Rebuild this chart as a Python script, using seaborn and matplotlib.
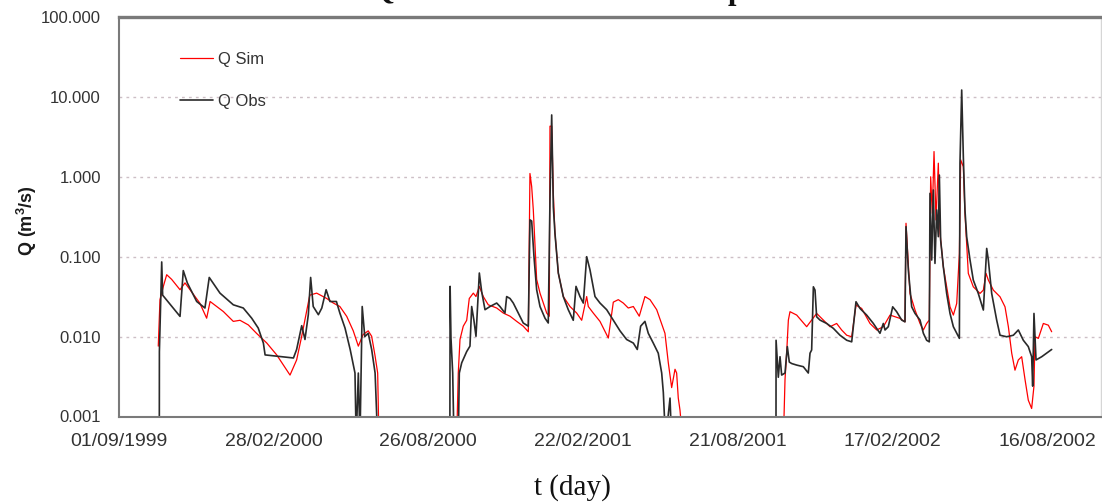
import numpy as np
import pandas as pd
import matplotlib
matplotlib.use("Agg")
import matplotlib.pyplot as plt
import matplotlib.ticker as mticker
import seaborn as sns

# Simulated and observed discharge, days counted from 01/09/1999
start = pd.Timestamp("1999-09-01")

sim_days = [
    45.7, 47.7, 51.6, 55.5, 61.3, 71.0, 76.8, 94.0, 102.0, 106.0, 121.4, 133.0,
    140.8, 150.5, 160.0, 172.0, 183.5, 199.0, 206.7, 212.6, 222.0, 230.0, 241.7,
    249.4, 257.0, 265.0, 272.6, 278.5, 284.0, 290.0, 294.0, 298.0, 301.0, 302.5,
    392.9, 394.8, 396.8, 400.6, 404.6, 407.6, 412.3, 415.4, 419.3, 423.9, 429.7,
    439.5, 447.2, 455.0, 462.8, 470.4, 476.3, 478.2, 480.2, 482.1, 484.1, 486.0,
    489.9, 497.7, 500.7, 501.5, 503.5, 505.4, 507.3, 511.2, 517.0, 524.8, 532.6,
    538.4, 544.2, 546.1, 551.9, 559.7, 569.4, 575.2, 581.0, 586.8, 592.6, 598.5,
    605.4, 612.0, 617.9, 625.7, 635.3, 639.2, 643.1, 647.0, 648.9, 650.8, 652.8,
    655.9,
    773.1, 775.0, 776.9, 778.9, 780.8, 788.6, 800.2, 806.0, 811.8, 819.6, 827.4,
    835.1, 840.9, 846.8, 852.6, 857.6, 864.2, 873.9, 881.7, 889.4, 897.2, 908.8,
    914.6, 915.8, 920.4, 926.3, 932.1, 936.0, 939.8, 942.9, 944.5, 946.4, 948.4,
    950.7, 953.4, 955.4, 959.2, 963.1, 967.0, 970.9, 974.8, 977.9, 979.4, 982.5,
    984.4, 988.3, 994.1, 1001.9, 1005.8, 1008.9, 1011.6, 1017.4, 1025.2, 1031.0,
    1034.9, 1038.8, 1042.6, 1046.5, 1050.4, 1054.3, 1058.1, 1062.0, 1064.7,
    1065.9, 1069.8, 1075.6, 1081.4, 1085.3,
]
sim_flow = [
    0.0076, 0.029, 0.0425, 0.0595, 0.052, 0.0386, 0.047, 0.0263, 0.017, 0.0275,
    0.0206, 0.0155, 0.016, 0.014, 0.011, 0.0083, 0.0059, 0.0033, 0.0051, 0.0101,
    0.033, 0.035, 0.030, 0.0263, 0.0238, 0.0179, 0.0118, 0.0076, 0.0106, 0.0118,
    0.0101, 0.0057, 0.0035, 0.0005,
    0.0005, 0.0035, 0.0092, 0.0135, 0.016, 0.030, 0.035, 0.0317, 0.0425, 0.0317,
    0.025, 0.0228, 0.0197, 0.018, 0.0155, 0.0135, 0.0115, 1.1, 0.756, 0.386,
    0.134, 0.052, 0.035, 0.0197, 0.018, 4.3, 4.3, 0.62, 0.197, 0.0625, 0.0317,
    0.0238, 0.0197, 0.016, 0.0317, 0.0238, 0.0197, 0.0155, 0.0096, 0.027, 0.029,
    0.0263, 0.0228, 0.0238, 0.018, 0.0317, 0.029, 0.0217, 0.011, 0.0047, 0.0023,
    0.0039, 0.0035, 0.0017, 0.0012, 0.0005,
    0.0005, 0.0029, 0.0062, 0.0161, 0.0205, 0.0186, 0.0133, 0.0161, 0.0195,
    0.0161, 0.0133, 0.0146, 0.0121, 0.0104, 0.00995, 0.0248, 0.0225, 0.0146,
    0.0121, 0.0133, 0.0186, 0.0169, 0.0153, 0.262, 0.0347, 0.0215, 0.0146,
    0.0121, 0.0146, 0.0161, 1.0, 0.349, 2.07, 0.288, 1.48, 0.196, 0.075, 0.042,
    0.0236, 0.0186, 0.026, 0.110, 1.63, 1.34, 0.349, 0.0618, 0.042, 0.0347,
    0.0382, 0.0618, 0.051, 0.0382, 0.0315, 0.0236, 0.0133, 0.0062, 0.0038,
    0.0051, 0.0056, 0.0029, 0.0016, 0.00126, 0.0024, 0.00995, 0.0095, 0.0146,
    0.0139, 0.0115,
]

obs_days = [
    46.9, 47.0, 49.7, 50.8, 71.0, 74.8, 79.5, 90.4, 100.0, 105.0, 117.5, 133.0,
    144.6, 154.4, 162.0, 168.0, 170.0, 203.0, 206.7, 212.6, 216.4, 220.3, 223.0,
    226.0, 232.0, 236.0, 241.0, 245.5, 253.0, 257.0, 263.0, 269.0, 274.6, 276.0,
    278.5, 280.4, 283.0, 286.0, 290.0, 294.0, 298.0, 301.0,
    385.0, 385.3, 386.3, 388.3, 389.8, 394.8, 396.0, 398.8, 404.6, 408.4, 410.4,
    413.0, 415.4, 419.3, 422.0, 425.9, 431.7, 439.5, 443.3, 449.1, 451.1, 455.0,
    458.8, 464.6, 470.4, 476.3, 478.2, 480.2, 482.9, 486.0, 489.9, 495.7, 499.5,
    501.5, 503.5, 505.4, 507.3, 511.2, 517.0, 522.8, 528.6, 531.8, 536.4, 540.3,
    544.2, 548.0, 553.9, 559.7, 567.5, 575.2, 583.0, 590.7, 598.5, 603.1, 607.0,
    612.0, 615.9, 621.7, 627.5, 631.5, 633.4, 636.0, 641.2, 643.0,
    764.5, 764.6, 767.2, 769.2, 771.1, 775.0, 777.7, 780.0, 782.8, 788.6, 796.3,
    802.1, 804.1, 806.0, 808.0, 809.9, 811.8, 815.7, 823.5, 831.2, 839.0, 846.8,
    852.6, 857.6, 862.3, 870.0, 877.8, 885.5, 889.4, 891.4, 895.2, 900.3, 904.9,
    910.8, 914.6, 915.8, 918.5, 922.4, 926.3, 932.1, 936.0, 939.8, 942.9, 943.7,
    945.7, 947.6, 949.5, 951.5, 953.4, 954.6, 956.1, 959.2, 963.1, 967.0, 970.9,
    974.8, 977.9, 978.6, 980.6, 982.5, 984.4, 986.4, 990.3, 994.1, 999.9, 1005.8,
    1009.7, 1011.6, 1015.5, 1021.3, 1025.2, 1032.9, 1040.7, 1046.5, 1052.3,
    1058.1, 1062.0, 1063.2, 1064.7, 1067.1, 1073.7, 1085.3,
]
obs_flow = [
    0.0005, 0.0065, 0.086, 0.033, 0.0179, 0.067, 0.047, 0.0275, 0.0228, 0.055,
    0.035, 0.025, 0.0228, 0.017, 0.0128, 0.0083, 0.0059, 0.0054, 0.0069, 0.0137,
    0.0092, 0.0188, 0.055, 0.0238, 0.0188, 0.0228, 0.0386, 0.0275, 0.0275,
    0.0197, 0.0128, 0.0069, 0.0035, 0.0005, 0.0035, 0.0005, 0.0238, 0.0100,
    0.0110, 0.0069, 0.0035, 0.0005,
    0.0005, 0.0425, 0.0096, 0.0035, 0.0005, 0.0005, 0.0035, 0.0047, 0.0065,
    0.0076, 0.0238, 0.016, 0.0101, 0.0625, 0.0367, 0.0217, 0.0238, 0.0263,
    0.0238, 0.0197, 0.0317, 0.030, 0.0263, 0.0197, 0.0148, 0.0135, 0.289, 0.28,
    0.10, 0.0386, 0.0238, 0.017, 0.0148, 0.515, 5.94, 0.42, 0.197, 0.0625,
    0.0317, 0.0217, 0.016, 0.0425, 0.0317, 0.0263, 0.10, 0.069, 0.0317, 0.0263,
    0.0217, 0.016, 0.0118, 0.0092, 0.0083, 0.0069, 0.0135, 0.0155, 0.011,
    0.0083, 0.0062, 0.0035, 0.002, 0.0005, 0.0017, 0.0005,
    0.0005, 0.0090, 0.0031, 0.0056, 0.0033, 0.0035, 0.0075, 0.0048, 0.0046,
    0.0044, 0.0042, 0.0035, 0.0062, 0.0068, 0.042, 0.0382, 0.0177, 0.0161,
    0.0146, 0.0127, 0.0104, 0.0090, 0.0086, 0.0273, 0.0225, 0.0186, 0.0146,
    0.0110, 0.0146, 0.0121, 0.0133, 0.0236, 0.0205, 0.0161, 0.0153, 0.238,
    0.068, 0.0236, 0.0195, 0.0161, 0.0110, 0.0090, 0.0086, 0.62, 0.0908, 0.684,
    0.0824, 0.385, 0.178, 1.05, 0.162, 0.075, 0.0347, 0.0195, 0.0133, 0.0110,
    0.0095, 1.48, 12.2, 1.79, 0.385, 0.178, 0.0908, 0.051, 0.0347, 0.0215,
    0.127, 0.0908, 0.0347, 0.0161, 0.0104, 0.00995, 0.0104, 0.0121, 0.0090,
    0.0075, 0.0056, 0.0024, 0.0195, 0.0051, 0.0056, 0.0069,
]

tick_days = [0, 180, 360, 540, 720, 900, 1080]
y_ticks = [0.001, 0.01, 0.1, 1, 10, 100]
y_tick_labels = ["0.001", "0.010", "0.100", "1.000", "10.000", "100.000"]

sim = pd.DataFrame({"date": start + pd.to_timedelta(sim_days, unit="D"),
                    "Q": sim_flow})
obs = pd.DataFrame({"date": start + pd.to_timedelta(obs_days, unit="D"),
                    "Q": obs_flow})

sns.set_style("white")
plt.rcParams["font.family"] = ["Liberation Sans", "DejaVu Sans"]
plt.rcParams["mathtext.fontset"] = "custom"
plt.rcParams["mathtext.rm"] = "Liberation Sans"
plt.rcParams["mathtext.bf"] = "Liberation Sans:bold"

W, H = 1102, 503
fig = plt.figure(figsize=(W / 100, H / 100), dpi=100)
left, right, top, bottom = 119, 1101, 17, 416.5
ax = fig.add_axes([left / W, 1 - bottom / H, (right - left) / W, (bottom - top) / H])

sns.lineplot(data=sim, x="date", y="Q", estimator=None, sort=False,
             color="#ff0000", linewidth=0.9, label="Q Sim", ax=ax)
sns.lineplot(data=obs, x="date", y="Q", estimator=None, sort=False,
             color="#2a2a2a", linewidth=1.2, label="Q Obs", ax=ax)

ax.set_yscale("log")
ax.set_ylim(0.001, 100)
ax.set_yticks(y_ticks)
ax.set_yticklabels(y_tick_labels)
ax.yaxis.set_minor_locator(mticker.NullLocator())

ax.set_xlim(start, start + pd.Timedelta(days=1142.7))
tick_dates = [start + pd.Timedelta(days=d) for d in tick_days]
ax.set_xticks(tick_dates)
ax.set_xticklabels([d.strftime("%d/%m/%Y") for d in tick_dates])
ax.xaxis.set_minor_locator(mticker.NullLocator())

ax.yaxis.grid(True, linestyle=(0, (2, 3)), color="#cdbfc6", linewidth=1.0)
ax.xaxis.grid(False)

ax.tick_params(axis="x", direction="out", length=8, width=1.2, color="#707070",
               labelsize=14, labelcolor="#333333", pad=4)
ax.tick_params(axis="y", direction="out", length=5, width=1.2, color="#707070",
               labelsize=12, labelcolor="#333333", pad=8)

ax.spines["top"].set_color("#7a7a7a")
ax.spines["top"].set_linewidth(2.4)
ax.spines["left"].set_color("#7a7a7a")
ax.spines["left"].set_linewidth(1.5)
ax.spines["bottom"].set_color("#7a7a7a")
ax.spines["bottom"].set_linewidth(1.5)
ax.spines["right"].set_color("#d6d6d6")
ax.spines["right"].set_linewidth(1.0)

ax.set_ylabel(r"Q (m$^\mathbf{3}$/s)", fontsize=13, fontweight="bold", color="#1a1a1a")
ax.yaxis.set_label_coords((39 - left) / (right - left), 1 - (221 - top) / (bottom - top))
ax.set_xlabel("t (day)", fontsize=21, family=["Liberation Serif", "DejaVu Serif"],
              color="#111111")
ax.xaxis.set_label_coords((572 - left) / (right - left), -(474 - bottom) / (bottom - top))

leg = ax.legend(loc="upper left", frameon=False, fontsize=12, handlelength=2.0,
                handletextpad=0.3, labelspacing=1.6, borderpad=0, borderaxespad=0,
                bbox_to_anchor=((180 - left) / (right - left), 1 - (52 - top) / (bottom - top)))
for t in leg.get_texts():
    t.set_color("#333333")

fig.text(592 / W, 1 + 0.5 / H, "Q - Results for Calibration period",
         family=["Liberation Serif", "DejaVu Serif"], fontweight="bold",
         fontsize=22, ha="center", va="baseline", color="#111111")

fig.savefig("out.png", dpi=100, facecolor="white")
